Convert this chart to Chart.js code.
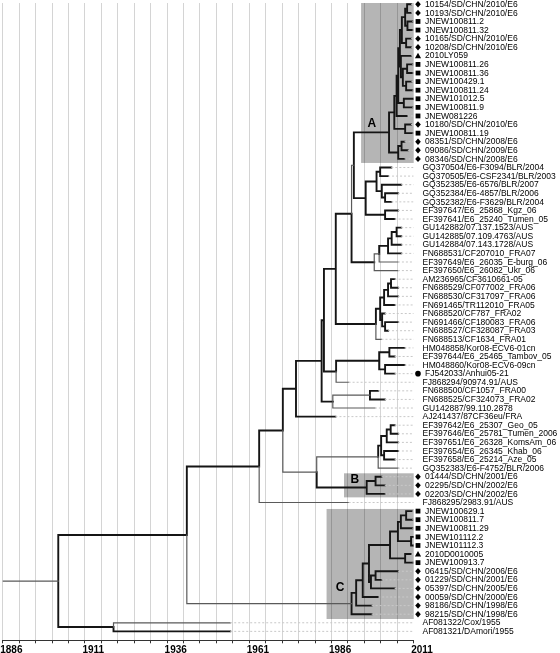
<!DOCTYPE html>
<html>
<head>
<meta charset="utf-8">
<script src="https://cdn.jsdelivr.net/npm/chart.js@4.4.1/dist/chart.umd.min.js"></script>
<style>
  html, body { margin: 0; padding: 0; background: #fff; }
  #wrap { width: 560px; height: 653px; position: relative; }
</style>
</head>
<body>
<div id="wrap"><canvas id="treeChart"></canvas></div>
<script>
// leaves, top to bottom
const leafLabels = [
  '10154/SD/CHN/2010/E6', '10193/SD/CHN/2010/E6', 'JNEW100811.2', 'JNEW100811.32',
  '10165/SD/CHN/2010/E6', '10208/SD/CHN/2010/E6', '2010LY059', 'JNEW100811.26',
  'JNEW100811.36', 'JNEW100429.1', 'JNEW100811.24', 'JNEW101012.5', 'JNEW100811.9',
  'JNEW081226', '10180/SD/CHN/2010/E6', 'JNEW100811.19', '08351/SD/CHN/2008/E6',
  '09086/SD/CHN/2009/E6', '08346/SD/CHN/2008/E6',
  'GQ370504/E6-F3094/BLR/2004', 'GQ370505/E6-CSF2341/BLR/2003', 'GQ352385/E6-6576/BLR/2007',
  'GQ352384/E6-4857/BLR/2006', 'GQ352382/E6-F3629/BLR/2004', 'EF397647/E6_25868_Kgz_06',
  'EF397641/E6_25240_Tumen_05', 'GU142882/07.137.1523/AUS', 'GU142885/07.109.4763/AUS',
  'GU142884/07.143.1728/AUS', 'FN688531/CF207010_FRA07', 'EF397649/E6_26035_E-burg_06',
  'EF397650/E6_26082_Ukr_06', 'AM236965/CF3610661-05', 'FN688529/CF077002_FRA06',
  'FN688530/CF317097_FRA06', 'FN691465/TR112010_FRA05', 'FN688520/CF787_FRA02',
  'FN691466/CF180083_FRA06', 'FN688527/CF328087_FRA03', 'FN688513/CF1634_FRA01',
  'HM048858/Kor08-ECV6-01cn', 'EF397644/E6_25465_Tambov_05', 'HM048860/Kor08-ECV6-09cn',
  'FJ542033/Anhui05-21', 'FJ868294/90974.91/AUS', 'FN688500/CF1057_FRA00',
  'FN688525/CF324073_FRA02', 'GU142887/99.110.2878', 'AJ241437/87CF36eu/FRA',
  'EF397642/E6_25307_Geo_05', 'EF397646/E6_25781_Tumen_2006', 'EF397651/E6_26328_KomsAm_06',
  'EF397654/E6_26345_Khab_06', 'EF397658/E6_25214_Aze_05', 'GQ352383/E6-F4752/BLR/2006',
  '01444/SD/CHN/2001/E6', '02295/SD/CHN/2002/E6', '02203/SD/CHN/2002/E6',
  'FJ868295/2983.91/AUS', 'JNEW100629.1', 'JNEW100811.7', 'JNEW100811.29', 'JNEW101112.2',
  'JNEW101112.3', '2010D0010005', 'JNEW100913.7', '06415/SD/CHN/2006/E6',
  '01229/SD/CHN/2001/E6', '05397/SD/CHN/2005/E6', '00059/SD/CHN/2000/E6',
  '98186/SD/CHN/1998/E6', '98215/SD/CHN/1998/E6', 'AF081322/Cox/1955', 'AF081321/DAmori/1955'
];
// d = diamond, s = square, t = triangle, c = circle
const leafMarks = [
  'd', 'd', 's', 's', 'd', 'd', 't', 's', 's', 's', 's', 's', 's', 's', 'd', 's', 'd', 'd', 'd',
  '', '', '', '', '', '', '', '', '', '', '', '', '', '', '', '', '', '', '', '', '',
  '', '', '', 'c', '', '', '', '', '', '', '', '', '', '', '',
  'd', 'd', 'd', '',
  's', 's', 's', 's', 's', 't', 's', 'd', 'd', 'd', 'd', 'd', 'd', '', ''
];
const tipYears = [
  2010.2, 2010.2, 2010.6, 2010.6, 2010.2, 2010.2, 2010.2, 2010.6, 2010.6, 2010.3,
  2010.6, 2010.8, 2010.6, 2009.0, 2010.2, 2010.6, 2008.2, 2009.2, 2008.2,
  2004.2, 2003.2, 2007.2, 2006.2, 2004.2, 2006.2, 2005.2, 2007.2, 2007.2, 2007.2,
  2007.2, 2006.2, 2006.2, 2005.2, 2006.2, 2006.2, 2005.2, 2002.2, 2006.2, 2003.2,
  2001.2, 2008.2, 2005.2, 2008.2, 2005.2, 1991.2, 2000.2, 2002.2, 1999.2, 1987.2,
  2005.2, 2006.2, 2006.2, 2006.2, 2005.2, 2006.2, 2001.2, 2002.2, 2002.2, 1991.2,
  2010.5, 2010.6, 2010.6, 2010.9, 2010.9, 2010.2, 2010.7, 2006.2, 2001.2, 2005.2,
  2000.2, 1998.2, 1998.2, 1955.2, 1955.2
];

// internal nodes: id, estimated year, children (leaf index or node id)
const nodeIds = [
  'root', 'cox', 'n186', 'n259', 'n283', 'n296', 'n322', 'n324', 'n336b', 'n352', 'n354',
  'a0', 'p1', 'p2', 'p3', 'q', 'qa', 'qa1', 'qa2', 'qa3', 'qa4', 'qb', 'qb1', 'qb2', 'qb3',
  'a11', 'a14a', 'a14', 'a15',
  'n365', 'blr', 'blr1', 'blr2', 'blr3', 'kgz',
  'n374', 'n379', 'aus0', 'aus1', 'aus2',
  'n376', 'fra0', 'fra1', 'fra2', 'fra3', 'fra4', 'fra5',
  'n336', 'kor0', 'kor1', 'kor2', 'n333', 'n370',
  'n317', 'ef0', 'ef1', 'ef2', 'ef3', 'ef4', 'b0', 'b1',
  'c0', 'c2', 'c3', 'c4', 'c5', 'c6', 'j6', 'j4', 'j2', 'j1', 'j3', 'j5'
];
const nodeYears = [
  1902.9, 1919.7, 1942.0, 1964.0, 1971.2, 1975.2, 1983.0, 1983.7, 1987.3, 1992.1, 1992.8,
  2003.5, 2005.1, 2005.8, 2006.3, 2006.8, 2007.4, 2008.4, 2009.0, 2009.1, 2008.7, 2007.1, 2007.7, 2009.0, 2008.7,
  2008.0, 2008.4, 2006.3, 2007.3,
  1996.4, 1999.7, 2000.8, 2001.3, 2002.3, 2002.3,
  1999.0, 2000.5, 2003.2, 2004.3, 2005.8,
  1999.5, 2000.8, 2002.0, 2003.2, 2004.1, 2001.4, 2002.3,
  1987.4, 2000.5, 2003.6, 2002.3, 1986.4, 1997.7,
  1981.5, 2000.2, 2001.1, 2002.8, 2004.0, 2002.0, 1996.7, 1999.4,
  1992.1, 1993.5, 1995.5, 1997.4, 1998.0, 1999.4, 2003.8, 2006.2, 2007.1, 2008.7, 2010.2, 2008.4
];
const nodeKids = [
  ['n186', 'cox'], [72, 73], ['n259', 'c0'], ['n283', 58], ['n296', 'n317'], ['n322', 48],
  ['n324', 'n333'], ['n336b', 'n336'], ['n352', 'n376'], ['n354', 'n374'], ['a0', 'n365'],
  ['p1', 'a14'], ['p2', 'a14a'], ['p3', 13], ['q', 'a11'], ['qa', 'qb'], ['qa1', 'qa4'],
  ['qa2', 'qa3'], [0, 1], [2, 3], [4, 5], [6, 'qb1'], ['qb2', 'qb3'], [7, 8], [9, 10],
  [11, 12], [14, 15], ['a15', 18], [16, 17],
  ['blr', 'kgz'], ['blr1', 'blr2'], [19, 20], [21, 'blr3'], [22, 23], [24, 25],
  ['n379', 31], ['aus0', 30], ['aus1', 29], ['aus2', 28], [26, 27],
  ['fra0', 39], ['fra1', 'fra4'], ['fra2', 35], ['fra3', 34], [32, 33], [36, 'fra5'], [37, 38],
  ['kor0', 44], ['kor1', 'kor2'], [40, 41], [42, 43], ['n370', 47], [45, 46],
  ['ef0', 'b0'], ['ef1', 54], ['ef2', 'ef4'], ['ef3', 51], [49, 50], [52, 53], ['b1', 57], [55, 56],
  ['c2', 71], ['c3', 70], ['c4', 69], ['j6', 'c5'], ['c6', 68], [66, 67],
  ['j4', 'j5'], ['j2', 'j3'], ['j1', 61], [59, 60], [62, 63], [64, 65]
];
// branches drawn thin and grey (named by the child they lead to)
const thinBranches = ['root', 72, 58, 'c0', 'n317', 'ef0', 54, 'n354', 44, 47, 'n370', 31, 30, 39, 'n379'];

const tickYears = [1886, 1911, 1936, 1961, 1986, 2011];

const cladeNames = ['A', 'B', 'C'];
const cladeFrom = [1995.0, 1989.8, 1984.5];
const cladeTop = [-0.15, 54.6, 58.75];
const cladeBottom = [18.47, 57.4, 71.56];
const cladeLabelYear = [1998.3, 1993.1, 1988.6];
const cladeLabelLeaf = [13.9, 55.4, 67.95];

// ---- layout of the tree (y = leaf order, node y = middle of first/last child)
const xMin = tickYears[0];
const xMax = tickYears[tickYears.length - 1];
const nodeY = {};
function posOf(k) {
  if (typeof k === 'number') return { x: tipYears[k], y: k };
  const i = nodeIds.indexOf(k);
  if (nodeY[k] === undefined) {
    const kids = nodeKids[i];
    nodeY[k] = (posOf(kids[0]).y + posOf(kids[kids.length - 1]).y) / 2;
  }
  return { x: nodeYears[i], y: nodeY[k] };
}

const boldPts = [];
const thinPts = [];
const leaderPts = [];

// each child branch: down/up from the parent node, then across to the child
nodeIds.forEach((id, i) => {
  const here = posOf(id);
  nodeKids[i].forEach(k => {
    const p = posOf(k);
    const arr = thinBranches.includes(k) ? thinPts : boldPts;
    arr.push({ x: here.x, y: here.y }, { x: here.x, y: p.y }, { x: p.x, y: p.y }, { x: null, y: null });
  });
});
const rootPos = posOf('root');
(thinBranches.includes('root') ? thinPts : boldPts)
  .push({ x: xMin, y: rootPos.y }, { x: rootPos.x, y: rootPos.y }, { x: null, y: null });

tipYears.forEach((t, i) => leaderPts.push({ x: t, y: i }, { x: xMax, y: i }, { x: null, y: null }));

// ---- plugins: shaded clades, leaf names with symbols
const cladeBoxes = {
  id: 'cladeBoxes',
  beforeDraw(chart) {
    const { ctx, chartArea, scales } = chart;
    ctx.save();
    ctx.fillStyle = '#b5b5b5';
    cladeNames.forEach((n, i) => {
      const x1 = scales.x.getPixelForValue(cladeFrom[i]);
      const y1 = scales.y.getPixelForValue(cladeTop[i]);
      const y2 = scales.y.getPixelForValue(cladeBottom[i]);
      ctx.fillRect(x1, y1, chartArea.right - x1, y2 - y1);
    });
    ctx.restore();
  },
  afterDatasetsDraw(chart) {
    const { ctx, scales } = chart;
    ctx.save();
    ctx.fillStyle = '#000';
    ctx.font = 'bold 12px "Liberation Sans", Arial, sans-serif';
    ctx.textAlign = 'center';
    ctx.textBaseline = 'middle';
    cladeNames.forEach((n, i) => {
      ctx.fillText(n, scales.x.getPixelForValue(cladeLabelYear[i]), scales.y.getPixelForValue(cladeLabelLeaf[i]));
    });
    ctx.restore();
  }
};

function drawMark(ctx, type, x, y) {
  ctx.beginPath();
  if (type === 'd') {
    ctx.moveTo(x, y - 3.2); ctx.lineTo(x + 2.8, y); ctx.lineTo(x, y + 3.2); ctx.lineTo(x - 2.8, y);
  } else if (type === 's') {
    ctx.rect(x - 2.4, y - 2.4, 4.8, 4.8);
  } else if (type === 't') {
    ctx.moveTo(x, y - 3); ctx.lineTo(x + 3.1, y + 2.5); ctx.lineTo(x - 3.1, y + 2.5);
  } else if (type === 'c') {
    ctx.arc(x, y, 2.8, 0, Math.PI * 2);
  }
  ctx.closePath();
  ctx.fill();
}

const leafText = {
  id: 'leafText',
  afterDraw(chart) {
    const { ctx, chartArea, scales } = chart;
    ctx.save();
    ctx.fillStyle = '#000';
    ctx.font = '8.5px "Liberation Sans", Arial, sans-serif';
    ctx.textBaseline = 'middle';
    ctx.textAlign = 'left';
    leafLabels.forEach((name, i) => {
      const y = scales.y.getPixelForValue(i);
      const mark = leafMarks[i];
      if (mark) {
        drawMark(ctx, mark, chartArea.right + 4.3, y);
        ctx.fillText(name, chartArea.right + 11.3, y + 0.3);
      } else {
        ctx.fillText(name, chartArea.right + 8.8, y + 0.3);
      }
    });
    ctx.restore();
  }
};

new Chart(document.getElementById('treeChart'), {
  type: 'scatter',
  data: {
    datasets: [
      { data: leaderPts, showLine: true, borderColor: '#c8c8c8', borderWidth: 1, borderDash: [2, 2], pointRadius: 0 },
      { data: thinPts, showLine: true, borderColor: '#5a5a5a', borderWidth: 1.2, pointRadius: 0, borderCapStyle: 'square', borderJoinStyle: 'miter' },
      { data: boldPts, showLine: true, borderColor: '#151515', borderWidth: 1.9, pointRadius: 0, borderCapStyle: 'square', borderJoinStyle: 'miter' }
    ]
  },
  options: {
    responsive: true,
    maintainAspectRatio: false,
    animation: false,
    layout: { padding: { left: 2.7, right: 146.3, top: 3, bottom: 0 } },
    plugins: { legend: { display: false }, tooltip: { enabled: false } },
    scales: {
      x: {
        type: 'linear',
        min: xMin,
        max: xMax,
        ticks: {
          stepSize: 5,
          autoSkip: false,
          maxRotation: 0,
          align: 'start',
          labelOffset: -2.5,
          padding: 1,
          color: '#000',
          font: { family: '"Liberation Sans", Arial, sans-serif', size: 10, weight: 'bold' },
          callback: v => tickYears.includes(v) ? String(v) : ''
        },
        grid: {
          color: c => (c.tick && c.tick.value >= xMax) ? 'rgba(0,0,0,0)' : 'rgba(0,0,0,0.17)',
          lineWidth: 1,
          tickLength: 3,
          tickColor: '#333'
        },
        border: { display: true, color: '#333', width: 1 },
        afterFit: s => { s.height = 12.7; }
      },
      y: { type: 'linear', display: false, reverse: true, min: -0.15, max: 74.04 }
    }
  },
  plugins: [cladeBoxes, leafText]
});
</script>
</body>
</html>
